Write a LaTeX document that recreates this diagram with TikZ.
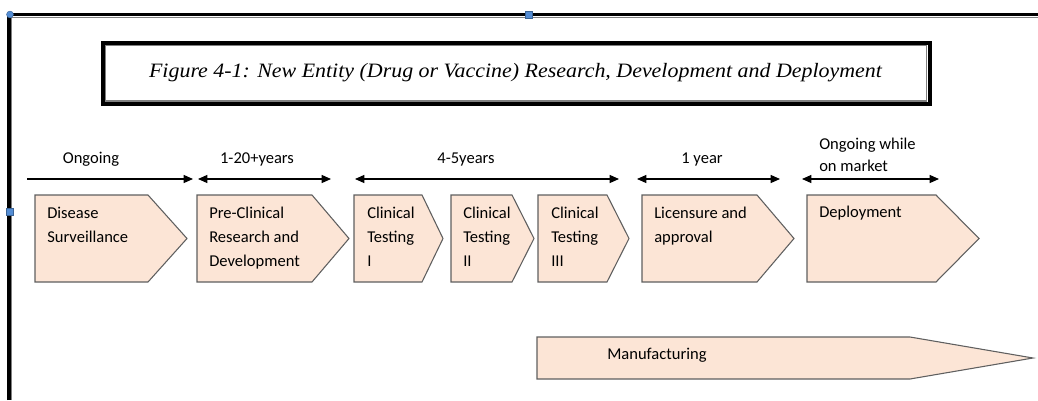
\documentclass[tikz,border=0pt]{standalone}
\usepackage{fontspec}
\setmainfont{Carlito}
\newfontfamily\titlefont[FakeStretch=1.075]{Liberation Serif}
\usetikzlibrary{arrows.meta}

\definecolor{peach}{RGB}{252,229,214}
\definecolor{edgegray}{RGB}{95,95,95}
\definecolor{handleblue}{RGB}{84,141,212}

\tikzset{
  >={Triangle[length=7pt,width=6pt]},
  phase/.style={fill=peach, draw=edgegray, line width=0.8pt},
  % anchored at the baseline of the last line
  phasetext/.style={anchor=base west, inner sep=0pt, align=left,
    font=\fontsize{12.4pt}{18.2pt}\selectfont},
  period/.style={line width=0.9pt},
  periodlabel/.style={anchor=base, inner sep=0pt,
    font=\fontsize{12.4pt}{16.5pt}\selectfont},
  handle/.style={fill=handleblue, draw=handleblue!70!black, line width=0.3pt}
}

\begin{document}
\begin{tikzpicture}[x=0.75pt, y=-0.75pt]
\useasboundingbox (0,0) rectangle (1038,400);

% page frame
\draw [line width=2.6pt] (9,400) -- (9,14.5) -- (1038,14.5);
\draw [gray, line width=0.9pt] (11.8,400) -- (11.8,17.3) -- (1038,17.3);
\filldraw [handle] (10,14.5) circle (2.6pt);
\filldraw [handle] (525,11.5) rectangle (532,18);
\filldraw [handle] (6,208) rectangle (13,215);

% title
\draw [line width=3pt] (102.7,42.7) rectangle (929.7,104);
\draw [gray, line width=0.9pt] (105.8,45.8) rectangle (926.6,100.9);
\node [anchor=base, inner sep=0pt, font=\titlefont\itshape\fontsize{15.3pt}{18pt}\selectfont] (title) at (515.5,77.7)
  {Figure 4-1: New Entity (Drug or Vaccine) Research, Development and Deployment};

% time spans
\coordinate (s1) at (27,179);  \coordinate (e1) at (193,179);
\coordinate (s2) at (198,179); \coordinate (e2) at (331,179);
\coordinate (s3) at (355,179); \coordinate (e3) at (619,179);
\coordinate (s4) at (637,179); \coordinate (e4) at (780,179);
\coordinate (s5) at (802,179); \coordinate (e5) at (939,179);
\draw [period, ->]  (s1) -- (e1);
\draw [period, <->] (s2) -- (e2);
\draw [period, <->] (s3) -- (e3);
\draw [period, <->] (s4) -- (e4);
\draw [period, <->] (s5) -- (e5);
\node [periodlabel] (ongoing) at (91,163.5) {Ongoing};
\node [periodlabel] (years20) at (257,163.5) {1-20+years};
\node [periodlabel] (years5) at (466,163.5) {4-5years};
\node [periodlabel] (year1) at (702,163.5) {1 year};
\node [periodlabel, anchor=base west, align=left] (market) at (819,171) {Ongoing while\\on market};

% stages
\draw [phase] (35,195) -- (148,195) -- (187,238.5) -- (148,282) -- (35,282) -- cycle;
\node [phasetext] (disease) at (47,242.3) {Disease\\Surveillance};

\draw [phase] (197,195) -- (312,195) -- (349,238.5) -- (312,282) -- (197,282) -- cycle;
\node [phasetext] (preclin) at (209,266.6) {Pre-Clinical\\Research and\\Development};

\draw [phase] (354,195) -- (422,195) -- (443,238.5) -- (422,282) -- (354,282) -- cycle;
\node [phasetext] (clin1) at (367,266.6) {Clinical\\Testing\\I};

\draw [phase] (451,195) -- (512,195) -- (534,238.5) -- (512,282) -- (451,282) -- cycle;
\node [phasetext] (clin2) at (463,266.6) {Clinical\\Testing\\II};

\draw [phase] (538,195) -- (607,195) -- (629,238.5) -- (607,282) -- (538,282) -- cycle;
\node [phasetext] (clin3) at (551,266.6) {Clinical\\Testing\\III};

\draw [phase] (642,195) -- (757,195) -- (794,238.5) -- (757,282) -- (642,282) -- cycle;
\node [phasetext] (licence) at (654,242.3) {Licensure and\\approval};

\draw [phase] (807,195) -- (936,195) -- (979,238.5) -- (936,282) -- (807,282) -- cycle;
\node [phasetext] (deploy) at (819,217) {Deployment};

% manufacturing runs alongside
\draw [phase] (537,337) -- (910,337) -- (1033,358) -- (910,379) -- (537,379) -- cycle;
\node [phasetext] (manuf) at (607,359.3) {Manufacturing};

\end{tikzpicture}
\end{document}
